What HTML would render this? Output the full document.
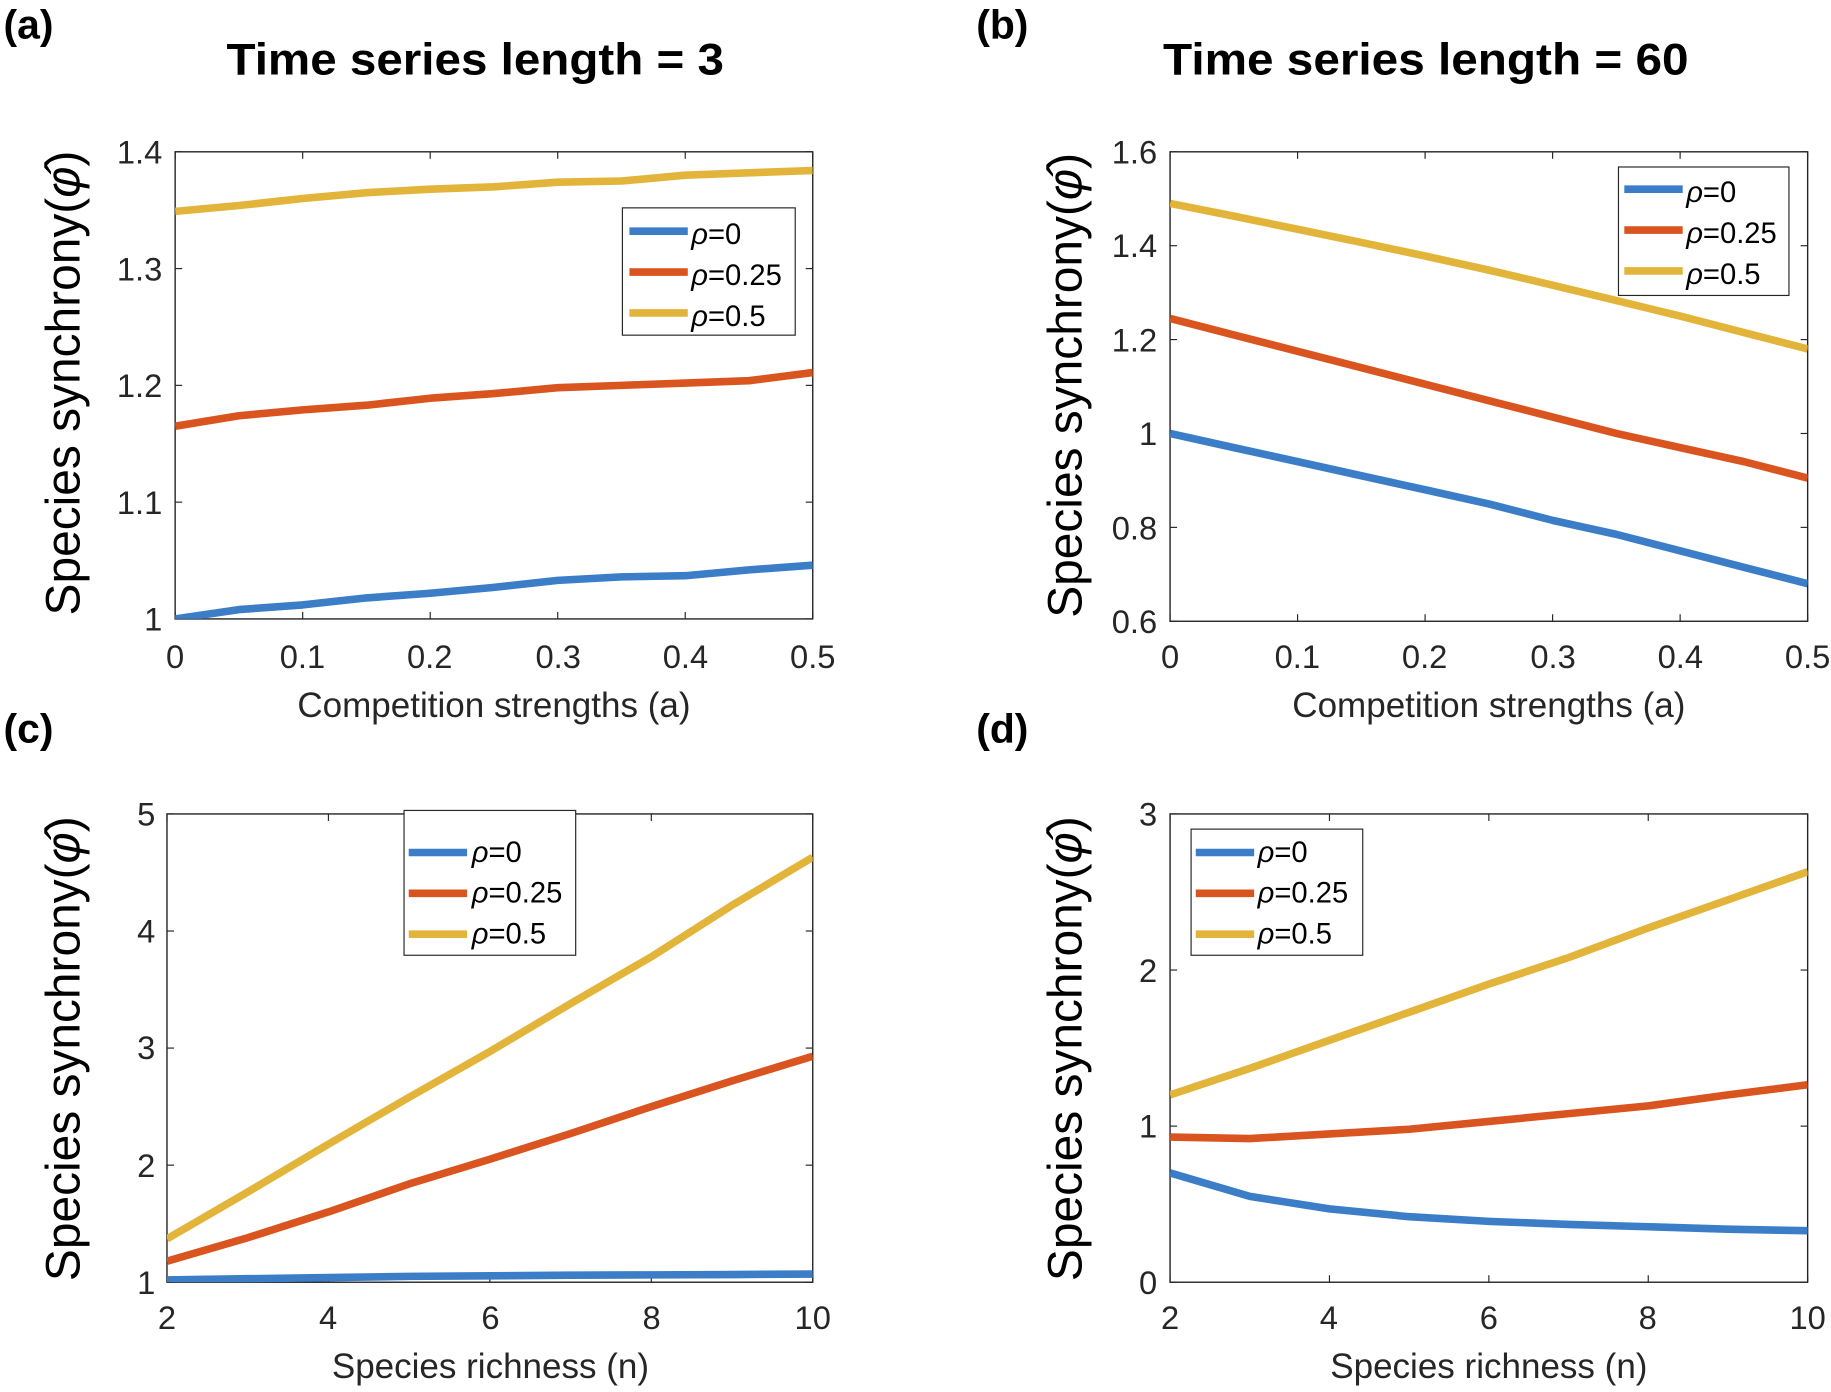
<!DOCTYPE html>
<html><head><meta charset="utf-8"><style>
html,body{margin:0;padding:0;background:#fff}
svg{display:block}
text{font-family:"Liberation Sans",sans-serif;fill:#262626}
.t{font-size:28px}
.xl{font-size:30px}
.yl{font-size:41px;fill:#000}
.tt{font-size:38px;font-weight:bold;fill:#000}
.pl{font-size:35px;font-weight:bold;fill:#000}
.lg{font-size:25px;fill:#000}
</style></head><body>
<svg id="s" width="1831" height="1392" viewBox="0 0 1568 1192" preserveAspectRatio="none" xmlns="http://www.w3.org/2000/svg">
<g id="plots"></g>
<text class="pl" x="3" y="33">(a)</text>
<text class="pl" x="836" y="33">(b)</text>
<text class="pl" x="3" y="636">(c)</text>
<text class="pl" x="836" y="636">(d)</text>
<text class="tt" x="194" y="64" textLength="426" lengthAdjust="spacingAndGlyphs">Time series length = 3</text>
<text class="tt" x="996" y="64" textLength="450" lengthAdjust="spacingAndGlyphs">Time series length = 60</text>

<g class="t" text-anchor="middle">
<text x="150" y="572">0</text><text x="259" y="572">0.1</text><text x="368" y="572">0.2</text><text x="478" y="572">0.3</text><text x="587" y="572">0.4</text><text x="696" y="572">0.5</text>
</g>
<g class="t" text-anchor="end">
<text x="139" y="540">1</text><text x="139" y="440">1.1</text><text x="139" y="340">1.2</text><text x="139" y="240">1.3</text><text x="139" y="140">1.4</text>
</g>
<text class="xl" x="423" y="614" text-anchor="middle">Competition strengths (a)</text>
<text class="yl" transform="translate(68,328) rotate(-90)" text-anchor="middle">Species synchrony(<tspan font-style="italic">φ̂</tspan>)</text>

<g class="t" text-anchor="middle">
<text x="1002" y="572">0</text><text x="1111" y="572">0.1</text><text x="1220" y="572">0.2</text><text x="1330" y="572">0.3</text><text x="1439" y="572">0.4</text><text x="1548" y="572">0.5</text>
</g>
<g class="t" text-anchor="end">
<text x="991" y="542">0.6</text><text x="991" y="462">0.8</text><text x="991" y="381">1</text><text x="991" y="301">1.2</text><text x="991" y="220">1.4</text><text x="991" y="140">1.6</text>
</g>
<text class="xl" x="1275" y="614" text-anchor="middle">Competition strengths (a)</text>
<text class="yl" transform="translate(926,330) rotate(-90)" text-anchor="middle">Species synchrony(<tspan font-style="italic">φ̂</tspan>)</text>

<g class="t" text-anchor="middle">
<text x="143" y="1138">2</text><text x="281" y="1138">4</text><text x="420" y="1138">6</text><text x="558" y="1138">8</text><text x="696" y="1138">10</text>
</g>
<g class="t" text-anchor="end">
<text x="133" y="1108">1</text><text x="133" y="1008">2</text><text x="133" y="907">3</text><text x="133" y="807">4</text><text x="133" y="707">5</text>
</g>
<text class="xl" x="420" y="1180" text-anchor="middle">Species richness (n)</text>
<text class="yl" transform="translate(68,898) rotate(-90)" text-anchor="middle">Species synchrony(<tspan font-style="italic">φ̂</tspan>)</text>

<g class="t" text-anchor="middle">
<text x="1002" y="1138">2</text><text x="1138" y="1138">4</text><text x="1275" y="1138">6</text><text x="1411" y="1138">8</text><text x="1548" y="1138">10</text>
</g>
<g class="t" text-anchor="end">
<text x="991" y="1108">0</text><text x="991" y="974">1</text><text x="991" y="841">2</text><text x="991" y="707">3</text>
</g>
<text class="xl" x="1275" y="1180" text-anchor="middle">Species richness (n)</text>
<text class="yl" transform="translate(926,898) rotate(-90)" text-anchor="middle">Species synchrony(<tspan font-style="italic">φ̂</tspan>)</text>

<g id="legs">
<rect x="533" y="178" width="148" height="109" fill="#fff" stroke="#262626" stroke-width="1"/>
<text class="lg" x="592" y="209"><tspan font-style="italic">ρ</tspan>=0</text>
<text class="lg" x="592" y="244"><tspan font-style="italic">ρ</tspan>=0.25</text>
<text class="lg" x="592" y="279"><tspan font-style="italic">ρ</tspan>=0.5</text>

<rect x="1386" y="143" width="146" height="110" fill="#fff" stroke="#262626" stroke-width="1"/>
<text class="lg" x="1444" y="173"><tspan font-style="italic">ρ</tspan>=0</text>
<text class="lg" x="1444" y="208"><tspan font-style="italic">ρ</tspan>=0.25</text>
<text class="lg" x="1444" y="243"><tspan font-style="italic">ρ</tspan>=0.5</text>

<rect x="346" y="694" width="147" height="124" fill="#fff" stroke="#262626" stroke-width="1"/>
<text class="lg" x="404" y="738"><tspan font-style="italic">ρ</tspan>=0</text>
<text class="lg" x="404" y="773"><tspan font-style="italic">ρ</tspan>=0.25</text>
<text class="lg" x="404" y="808"><tspan font-style="italic">ρ</tspan>=0.5</text>

<rect x="1020" y="710" width="147" height="108" fill="#fff" stroke="#262626" stroke-width="1"/>
<text class="lg" x="1077" y="738"><tspan font-style="italic">ρ</tspan>=0</text>
<text class="lg" x="1077" y="773"><tspan font-style="italic">ρ</tspan>=0.25</text>
<text class="lg" x="1077" y="808"><tspan font-style="italic">ρ</tspan>=0.5</text>
</g>
</svg>
<script>
var C=["#3b7ec7","#d9541f","#e2b43a"];
var NS="http://www.w3.org/2000/svg";
var g=document.getElementById("plots");
function el(n,a){var e=document.createElementNS(NS,n);for(var k in a)e.setAttribute(k,a[k]);g.appendChild(e);return e;}
function panel(p){
  var L=p.L,R=p.R,T=p.T,B=p.B;
  function X(v){return L+(v-p.x0)/(p.x1-p.x0)*(R-L);}
  function Y(v){return B-(v-p.y0)/(p.y1-p.y0)*(B-T);}
  el("rect",{x:L,y:T,width:R-L,height:B-T,fill:"#fff",stroke:"#262626","stroke-width":1.2});
  p.xt.forEach(function(v){var x=X(v);el("line",{x1:x,x2:x,y1:B,y2:B-6,stroke:"#262626","stroke-width":1});el("line",{x1:x,x2:x,y1:T,y2:T+6,stroke:"#262626","stroke-width":1});});
  p.yt.forEach(function(v){var y=Y(v);el("line",{x1:L,x2:L+6,y1:y,y2:y,stroke:"#262626","stroke-width":1});el("line",{x1:R,x2:R-6,y1:y,y2:y,stroke:"#262626","stroke-width":1});});
  var cp=el("clipPath",{id:"c"+p.id});var r=document.createElementNS(NS,"rect");r.setAttribute("x",L);r.setAttribute("y",T);r.setAttribute("width",R-L);r.setAttribute("height",B-T);cp.appendChild(r);
  p.d.forEach(function(s,i){
    var pts=s.map(function(v,j){return X(p.xs[j]).toFixed(1)+","+Y(v).toFixed(1);}).join(" ");
    el("polyline",{points:pts,fill:"none",stroke:C[i],"stroke-width":6.5,"stroke-linejoin":"round","clip-path":"url(#c"+p.id+")"});
  });
}
var xa=[0,.05,.1,.15,.2,.25,.3,.35,.4,.45,.5],xn=[2,3,4,5,6,7,8,9,10];
panel({id:"a",L:150,R:696,T:130,B:530,x0:0,x1:.5,y0:1,y1:1.4,xs:xa,xt:[0,.1,.2,.3,.4,.5],yt:[1,1.1,1.2,1.3,1.4],
 d:[[1.0,1.008,1.012,1.018,1.022,1.027,1.033,1.036,1.037,1.042,1.046],
    [1.165,1.174,1.179,1.183,1.189,1.193,1.198,1.200,1.202,1.204,1.211],
    [1.349,1.354,1.360,1.365,1.368,1.370,1.374,1.375,1.380,1.382,1.384]]});
panel({id:"b",L:1002,R:1548,T:130,B:532,x0:0,x1:.5,y0:.6,y1:1.6,xs:xa,xt:[0,.1,.2,.3,.4,.5],yt:[.6,.8,1,1.2,1.4,1.6],
 d:[[1.0,0.97,0.94,0.91,0.88,0.85,0.815,0.785,0.75,0.715,0.68],
    [1.245,1.21,1.175,1.14,1.105,1.07,1.035,1.0,0.97,0.94,0.905],
    [1.49,1.463,1.435,1.407,1.378,1.348,1.316,1.283,1.25,1.215,1.18]]});
panel({id:"c",L:143,R:696,T:697,B:1098,x0:2,x1:10,y0:1,y1:5,xs:xn,xt:[2,4,6,8,10],yt:[1,2,3,4,5],
 d:[[1.02,1.03,1.04,1.05,1.055,1.06,1.063,1.066,1.07],
    [1.18,1.38,1.60,1.84,2.05,2.27,2.50,2.72,2.93],
    [1.37,1.77,2.18,2.58,2.97,3.38,3.78,4.22,4.63]]});
panel({id:"d",L:1002,R:1548,T:697,B:1098,x0:2,x1:10,y0:0,y1:3,xs:xn,xt:[2,4,6,8,10],yt:[0,1,2,3],
 d:[[0.70,0.55,0.47,0.42,0.39,0.37,0.355,0.34,0.33],
    [0.93,0.92,0.95,0.98,1.03,1.08,1.13,1.20,1.265],
    [1.2,1.37,1.55,1.73,1.91,2.08,2.27,2.45,2.63]]});
var s=document.getElementById("s");s.appendChild(document.getElementById("legs"));
var lgs=[[539,198],[1391,162],[350,730],[1024,730]];
lgs.forEach(function(l){for(var i=0;i<3;i++){var e=document.createElementNS(NS,"line");e.setAttribute("x1",l[0]);e.setAttribute("x2",l[0]+50);e.setAttribute("y1",l[1]+i*35);e.setAttribute("y2",l[1]+i*35);e.setAttribute("stroke",C[i]);e.setAttribute("stroke-width",6.5);s.appendChild(e);}});
</script>
</body></html>
